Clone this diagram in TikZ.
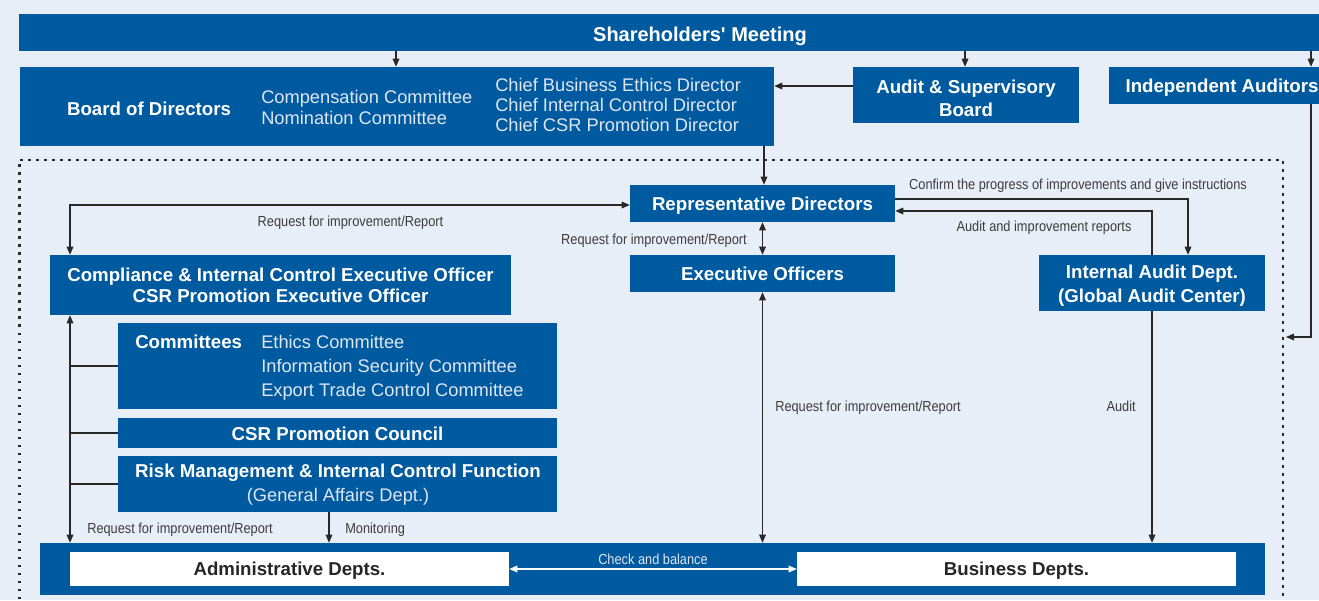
\documentclass[tikz,border=0pt]{standalone}
\usepackage{fontspec}
\setmainfont{Liberation Sans}
\newfontfamily\condf{Liberation Sans}[FakeStretch=0.88]
\usetikzlibrary{arrows.meta}
\definecolor{bgc}{RGB}{232,238,248}
\definecolor{blu}{RGB}{0,90,160}
\definecolor{lnc}{RGB}{40,40,40}
\definecolor{lblc}{RGB}{60,60,60}
\definecolor{ltc}{RGB}{222,230,242}
\tikzset{
 wh/.style 2 args={minimum width={#1*0.75pt}, minimum height={#2*0.75pt}},
 bluebox/.style={fill=blu, inner sep=0pt, text=white, align=center, font=\fontsize{14pt}{16pt}\selectfont\bfseries},
 whitebox/.style={fill=white, inner sep=0pt, text=black!85, align=center, font=\fontsize{14pt}{16pt}\selectfont\bfseries},
 sl/.style={text depth=0pt},
 boxtxt/.style={inner sep=0pt, text=white, align=center, font=\fontsize{14pt}{16pt}\selectfont\bfseries},
 lighttxt/.style={inner sep=0pt, text=ltc, align=left, font=\fontsize{13.7pt}{15.75pt}\selectfont},
 lbl/.style={inner sep=0pt, text=lblc, text depth=0pt, font=\condf\fontsize{10.9pt}{12pt}\selectfont},
 conn/.style={draw=lnc, line width=0.8pt},
 tip/.tip={Triangle[length=6pt,width=5pt]},
 arr/.style={conn, -tip},
 arrb/.style={conn, tip-tip},
 warrb/.style={draw=white, line width=0.8pt, tip-tip},
}
\begin{document}
\begin{tikzpicture}[x=0.75pt,y=-0.75pt]
\useasboundingbox (0,0) rectangle (1319,600);
\fill[bgc] (0,0) rectangle (1319,600);
% dotted frame
\draw[lnc, line width=1.9pt, dash pattern=on 1.9pt off 4.1pt] (1283,700) -- (1283,160) -- (19.5,160) -- (19.5,700);

% boxes
\node[bluebox, wh={1362}{37}, text height=13.6pt, text depth=0pt, font=\fontsize{15pt}{17pt}\selectfont\bfseries] (sh) at (700,32.5) {Shareholders\textquotesingle{} Meeting};
\node[bluebox, wh={754}{79}] (bod) at (397,106.5) {};
\node[boxtxt] (bodt) at (149,109) {Board of Directors};
\node[lighttxt, anchor=west] (bodc) at (261,107.5) {Compensation Committee\\Nomination Committee};
\node[lighttxt, anchor=west, font=\fontsize{13.7pt}{15pt}\selectfont] (bodd) at (495,105) {Chief Business Ethics Director\\Chief Internal Control Director\\Chief CSR Promotion Director};
\node[bluebox, wh={226}{56}] (asb) at (966,95) {};
\node[boxtxt, font=\fontsize{14pt}{17.25pt}\selectfont\bfseries] (asbt) at (966,98) {Audit \& Supervisory\\Board};
\node[bluebox, sl, wh={226}{37}] (ind) at (1222,85.5) {Independent Auditors};
\node[bluebox, sl, wh={265}{37}] (rd) at (762.5,203.5) {Representative Directors};
\node[bluebox, sl, wh={265}{37}] (eo) at (762.5,273.5) {Executive Officers};
\node[bluebox, wh={461}{60}, font=\fontsize{14pt}{15.75pt}\selectfont\bfseries] (comp) at (280.5,285) {Compliance \& Internal Control Executive Officer\\CSR Promotion Executive Officer};
\node[bluebox, wh={226}{56}] (ia) at (1152,283) {};
\node[boxtxt, font=\fontsize{14pt}{18pt}\selectfont\bfseries] (iat) at (1152,286) {Internal Audit Dept.\\(Global Audit Center)};
\node[bluebox, wh={439}{86}] (com) at (337.5,366) {};
\node[boxtxt, anchor=west] (comt) at (135,342) {Committees};
\node[lighttxt, anchor=west, font=\fontsize{13.7pt}{18pt}\selectfont] (comi) at (261,368) {Ethics Committee\\Information Security Committee\\Export Trade Control Committee};
\node[bluebox, wh={439}{30}, text height=11.4pt, text depth=0pt] (csr) at (337.5,433) {CSR Promotion Council};
\node[bluebox, wh={439}{56}] (risk) at (337.5,484) {};
\node[boxtxt] (riskt) at (338,473) {Risk Management \& Internal Control Function};
\node[lighttxt] (risks) at (338,497) {(General Affairs Dept.)};
\node[bluebox, wh={1225}{52}] (bot) at (652.5,569) {};
\node[whitebox, sl, wh={439}{34}] (adm) at (289.5,569) {Administrative Depts.};
\node[whitebox, sl, wh={439}{34}] (bus) at (1016.5,569) {Business Depts.};

% labels
\node[lbl] (l1) at (350.5,221) {Request for improvement/Report};
\node[lbl, anchor=east] (l2) at (747,239) {Request for improvement/Report};
\node[lbl] (l3) at (1078,184) {Confirm the progress of improvements and give instructions};
\node[lbl] (l4) at (1044,226) {Audit and improvement reports};
\node[lbl, anchor=west] (l5) at (775,406) {Request for improvement/Report};
\node[lbl, anchor=east] (l6) at (1136,406) {Audit};
\node[lbl, anchor=west] (l7) at (87,528) {Request for improvement/Report};
\node[lbl, anchor=west] (l8) at (345,528) {Monitoring};
\node[lbl, text=ltc] (l9) at (653,559) {Check and balance};

% connectors
\coordinate (dotR) at (1286,337);
\draw[arr] (sh.south -| 396,0) -- (bod.north -| 396,0);
\draw[arr] (sh.south -| 965,0) -- (asb.north -| 965,0);
\draw[arr] (sh.south -| 1311,0) -- (ind.north -| 1311,0);
\draw[arr] (asb.west |- 0,86) -- (bod.east |- 0,86);
\draw[arr] (ind.south -| 1311,0) |- (dotR);
\draw[arr] (bod.south -| 764,0) -- (rd.north -| 764,0);
\draw[arrb] (rd.south) -- (eo.north);
\draw[arrb] (comp.north -| 70,0) |- (rd.west |- 0,205);
\draw[arr] (rd.east |- 0,199) -| (ia.north -| 1188,0);
\draw[arr] (ia.north -| 1152,0) |- (rd.east |- 0,211);
\draw[arr] (ia.south -| 1152,0) -- (bot.north -| 1152,0);
\draw[arrb] (eo.south) -- (bot.north -| eo.south);
\draw[arrb] (comp.south -| 70,0) -- (bot.north -| 70,0);
\draw[conn] (com.west) -- (com.west -| 70,0);
\draw[conn] (csr.west) -- (csr.west -| 70,0);
\draw[conn] (risk.west) -- (risk.west -| 70,0);
\draw[arr] (risk.south -| 329,0) -- (bot.north -| 329,0);
\draw[warrb] (adm.east) -- (bus.west);
\end{tikzpicture}
\end{document}
